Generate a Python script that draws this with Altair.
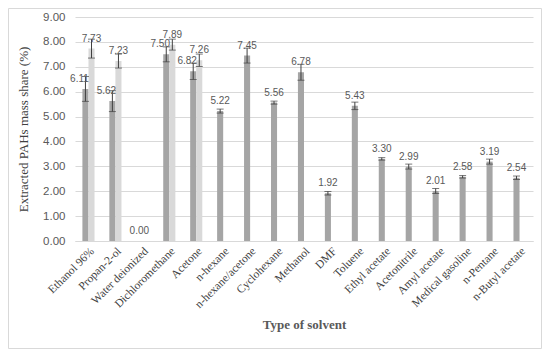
import altair as alt
import pandas as pd

categories = ["Ethanol 96%", "Propan-2-ol", "Water deionized", "Dichloromethane", "Acetone",
              "n-hexane", "n-hexane/acetone", "Cyclohexane", "Methanol", "DMF", "Toluene",
              "Ethyl acetate", "Acetonitrile", "Amyl acetate", "Medical gasoline", "n-Pentane",
              "n-Butyl acetate"]
series1_values = [6.11, 5.62, 0.00, 7.50, 6.82, 5.22, 7.45, 5.56, 6.78, 1.92, 5.43, 3.30, 2.99,
                  2.01, 2.58, 3.19, 2.54]
series1_errors = [0.50, 0.42, 0.00, 0.30, 0.33, 0.08, 0.30, 0.06, 0.32, 0.07, 0.15, 0.05, 0.10,
                  0.10, 0.05, 0.10, 0.07]
series2_values = [7.73, 7.23, None, 7.89, 7.26, None, None, None, None, None, None, None, None,
                  None, None, None, None]
series2_errors = [0.38, 0.28, None, 0.22, 0.25, None, None, None, None, None, None, None, None,
                  None, None, None, None]
y_ticks = [0, 1, 2, 3, 4, 5, 6, 7, 8, 9]

rows = []
for i, c in enumerate(categories):
    paired = series2_values[i] is not None
    rows.append({"category": c, "series": "S1", "value": series1_values[i],
                 "err": series1_errors[i], "paired": paired})
    if paired:
        rows.append({"category": c, "series": "S2", "value": series2_values[i],
                     "err": series2_errors[i], "paired": paired})
df = pd.DataFrame(rows)

W, H = 458, 224
PL, PT, PR, PB = 67, 9, 9, 108

x_enc = alt.X("category:N", sort=categories,
              scale=alt.Scale(paddingInner=0.55, paddingOuter=0.275),
              axis=alt.Axis(title="Type of solvent", labelAngle=-45, labelFont="Liberation Serif",
                            labelFontSize=11.5, labelColor="#404040", labelPadding=4,
                            titleFont="Liberation Serif", titleFontSize=13, titleFontWeight="bold",
                            titleColor="#595959", titlePadding=8, domainColor="#d9d9d9",
                            ticks=False))
xo_enc = alt.XOffset("series:N", scale=alt.Scale(domain=["S1", "S2"], paddingInner=0, paddingOuter=0))
y_scale = alt.Scale(domain=[0, 9], nice=False)
y_axis = alt.Axis(title="Extracted PAHs mass share (%)", values=y_ticks, format=".2f",
                  labelFont="Liberation Sans", labelFontSize=11.5, labelColor="#595959",
                  labelPadding=10, labelOverlap=False, labelBound=False, labelFlush=False,
                  domain=False, ticks=False, grid=True, gridColor="#d9d9d9",
                  titleFont="Liberation Serif", titleFontSize=13, titleFontWeight="normal",
                  titleColor="#404040", titlePadding=12)


def Y(field):
    return alt.Y(field, scale=y_scale, axis=y_axis, title="Extracted PAHs mass share (%)")


base = alt.Chart(df).encode(x=x_enc, xOffset=xo_enc)

bars = base.mark_bar().encode(
    y=Y("value:Q"),
    color=alt.Color("series:N", scale=alt.Scale(domain=["S1", "S2"], range=["#a5a5a5", "#d9d9d9"]),
                    legend=None),
)

errbase = base.transform_filter("datum.err > 0").transform_calculate(
    lo="datum.value - datum.err", hi="datum.value + datum.err")
err_rule = errbase.mark_rule(color="#404040", strokeWidth=1).encode(y=Y("lo:Q"), y2="hi:Q")
cap_lo = errbase.mark_tick(color="#404040", thickness=1, size=7).encode(y=Y("lo:Q"))
cap_hi = errbase.mark_tick(color="#404040", thickness=1, size=7).encode(y=Y("hi:Q"))

label_style = dict(baseline="bottom", dy=-5, font="Liberation Sans", fontSize=10, color="#595959")
labels_shift = base.transform_filter("datum.paired && datum.series == 'S1'").mark_text(
    dx=-6, **label_style).encode(y=Y("value:Q"), text=alt.Text("value:Q", format=".2f"))
labels_plain = base.transform_filter("!(datum.paired && datum.series == 'S1')").mark_text(
    **label_style).encode(y=Y("value:Q"), text=alt.Text("value:Q", format=".2f"))

frame = alt.Chart(pd.DataFrame({"f": [0]})).mark_rect(fillOpacity=0, stroke="#d9d9d9", strokeWidth=1).encode(
    x=alt.value(-PL + 0.5), x2=alt.value(W + PR - 0.5), y=alt.value(-PT + 0.5), y2=alt.value(H + PB - 0.5))

chart = alt.layer(bars, err_rule, cap_lo, cap_hi, labels_shift, labels_plain, frame).properties(
    width=W, height=H,
    autosize=alt.AutoSizeParams(type="none"),
    padding={"left": PL, "top": PT, "right": PR, "bottom": PB},
).configure_view(stroke=None).configure_axisX(grid=False)

chart.save("out.html", embed_options={"renderer": "svg", "actions": False})
